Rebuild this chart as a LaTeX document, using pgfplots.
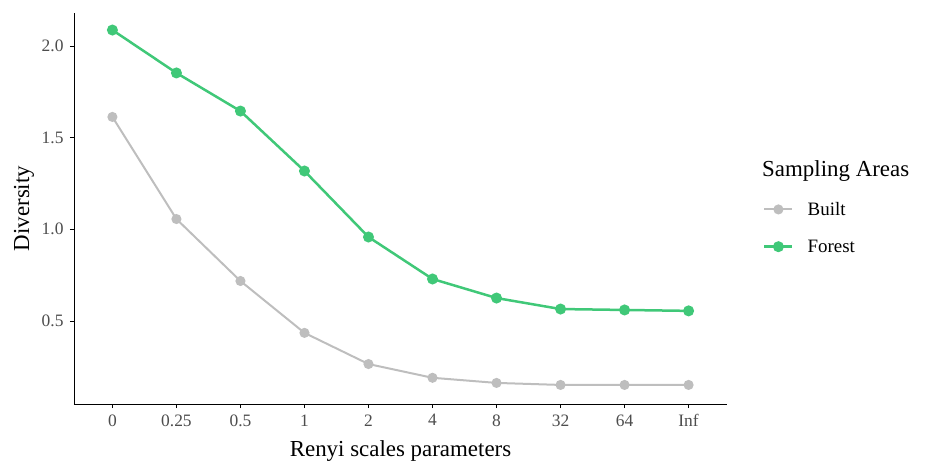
\documentclass[border=0pt]{standalone}
\usepackage{fontspec}
\setmainfont{Liberation Serif}
\usepackage{pgfplots}
\pgfplotsset{compat=1.18}
\definecolor{forest}{RGB}{64,200,120}
\definecolor{built}{RGB}{190,190,190}
\definecolor{ticktext}{RGB}{77,77,77}
\pgfplotstableread{
x y
0 1.613
1 1.056
2 0.718
3 0.435
4 0.265
5 0.190
6 0.162
7 0.151
8 0.151
9 0.151
}\builtdata
\pgfplotstableread{
x y
0 2.087
1 1.853
2 1.645
3 1.318
4 0.958
5 0.729
6 0.625
7 0.565
8 0.560
9 0.555
}\forestdata
\begin{document}
\begin{tikzpicture}
\begin{axis}[name=ax, scale only axis, width=653bp, height=391bp,
 xmin=-0.6, xmax=9.6, ymin=0.047, ymax=2.18,
 axis lines*=left, axis line style={line width=0.9bp, black, -},
 xtick={0,...,9}, xticklabels={0,0.25,0.5,1,2,4,8,32,64,Inf},
 ytick={0.5,1,1.5,2},
 yticklabel style={xshift=-3bp, /pgf/number format/.cd, fixed, fixed zerofill, precision=1},
 /pgf/number format/assume math mode=true,
 tick style={line width=0.9bp, black}, tick align=outside, major tick length=4bp,
 ticklabel style={font=\fontsize{17.5}{20}\selectfont, text=ticktext},
 xticklabel style={yshift=-3bp},
 xlabel={Renyi scales parameters}, ylabel={Diversity},
 label style={font=\fontsize{23}{27}\selectfont},
 xlabel style={at={(axis description cs:0.5,-0.1355)}, anchor=base},
 ylabel style={at={(axis description cs:-0.0689,0.5)}, anchor=base},
 clip=false,
 legend style={at={(axis description cs:1.0505,0.527)}, anchor=north west,
   draw=none, fill=none, font=\fontsize{19}{22}\selectfont, row sep=19bp, column sep=12bp},
 legend cell align=left,
 legend image code/.code={\draw[mark repeat=2,mark phase=2,#1] plot coordinates {(0bp,0bp)(14bp,0bp)(28bp,0bp)};},
]
\addplot[built, line width=2bp, mark=*, mark size=4bp, mark options={solid, fill=built, draw=built}] table {\builtdata};
\addlegendentry{Built}
\addplot[forest, line width=2.5bp, mark=*, mark size=4.2bp, mark options={solid, fill=forest, draw=forest}] table {\forestdata};
\addlegendentry{Forest}
\node[anchor=base west, font=\fontsize{23}{27}\selectfont, inner sep=0pt] at (axis description cs:1.0536,0.583) {Sampling Areas};
\end{axis}
\pgfresetboundingbox
\path[use as bounding box] (ax.south west) ++(-74bp,-57bp) rectangle ++(926bp,461bp);
\end{tikzpicture}
\end{document}
